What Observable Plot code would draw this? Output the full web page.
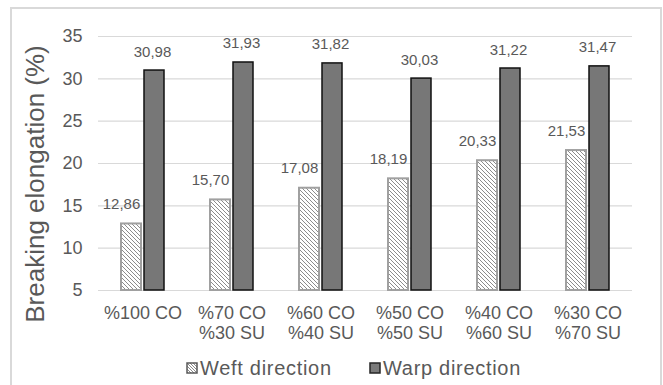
<!DOCTYPE html>
<html>
<head>
<meta charset="utf-8">
<script src="https://cdn.jsdelivr.net/npm/d3@7"></script>
<script src="https://cdn.jsdelivr.net/npm/@observablehq/plot@0.6"></script>
<style>
  body { margin: 0; background: #fff; }
  #wrap { position: relative; width: 663px; height: 385px; overflow: hidden; background: #fff;
          font-family: "Liberation Sans", Arial, sans-serif; color: #595959; }
  #frame { position: absolute; left: 10px; top: 7px; width: 652px; height: 390px;
           border: 2px solid #d9d9d9; box-sizing: border-box; }
  #chart { position: absolute; left: 0; top: 0; }
  #ytitle { position: absolute; left: 35px; top: 184px; white-space: nowrap; font-size: 26px;
            transform: translate(-50%, -50%) rotate(-90deg); }
  .item { position: absolute; top: 358px; height: 20px; line-height: 20px; font-size: 20px;
          letter-spacing: 0.7px; white-space: nowrap; }
  .item svg { position: absolute; left: 0; top: 4px; }
  .item span { position: absolute; left: 14px; top: 0; }
</style>
</head>
<body>
<div id="wrap">
  <div id="frame"></div>
  <div id="chart"></div>
  <div id="ytitle">Breaking elongation (%)</div>
  <div class="item" style="left:186px">
    <svg width="12" height="12">
      <defs>
        <pattern id="legendHatch" patternUnits="userSpaceOnUse" width="3" height="3">
          <path d="M-1,-1 L4,4 M-1,2 L1,4 M2,-1 L4,1" stroke="#7f7f7f" stroke-width="0.9"/>
        </pattern>
      </defs>
      <rect x="1" y="1" width="10" height="10" fill="url(#legendHatch)" stroke="#595959" stroke-width="1.5"/>
    </svg>
    <span>Weft direction</span>
  </div>
  <div class="item" style="left:369px">
    <svg width="12" height="12">
      <rect x="1" y="1" width="10" height="10" fill="#7a7a7a" stroke="#262626" stroke-width="1.5"/>
    </svg>
    <span>Warp direction</span>
  </div>
</div>
<script>
// Fabric blends and their breaking elongation (%) in weft and warp directions
const categories = ["%100 CO", "%70 CO\n%30 SU", "%60 CO\n%40 SU", "%50 CO\n%50 SU", "%40 CO\n%60 SU", "%30 CO\n%70 SU"];
const seriesNames = ["Weft direction", "Warp direction"];
const weftValues = [12.86, 15.70, 17.08, 18.19, 20.33, 21.53];
const warpValues = [30.98, 31.93, 31.82, 30.03, 31.22, 31.47];
const yTicks = [5, 10, 15, 20, 25, 30, 35];

const weftRows = categories.map((c, i) => ({cat: c, series: seriesNames[0], value: weftValues[i]}));
const warpRows = categories.map((c, i) => ({cat: c, series: seriesNames[1], value: warpValues[i]}));

const fmt = v => v.toFixed(2).replace(".", ",");

const chart = Plot.plot({
  width: 663,
  height: 320,
  marginTop: 36,
  marginBottom: 30,
  marginLeft: 98,
  marginRight: 31,
  style: {fontFamily: "'Liberation Sans', Arial, sans-serif", color: "#595959", background: "transparent", overflow: "visible"},
  fx: {domain: categories, padding: 0, label: null},
  x: {domain: seriesNames, paddingInner: 0.125, paddingOuter: 0.917, axis: null},
  y: {domain: [5, 35], label: null},
  marks: [
    Plot.ruleY(yTicks, {stroke: "#d9d9d9", strokeWidth: 1.2}),
    Plot.axisY(yTicks, {tickSize: 0, tickPadding: 16, fontSize: 18, label: null}),
    Plot.axisFx({anchor: "bottom", tickSize: 0, tickPadding: 14, fontSize: 18, lineHeight: 1.12, label: null}),
    Plot.barY(weftRows, {fx: "cat", x: "series", y1: 5, y2: "value", fill: "url(#weftHatch)", stroke: "#a0a0a0", strokeWidth: 2}),
    Plot.barY(warpRows, {fx: "cat", x: "series", y1: 5, y2: "value", fill: "#777777", stroke: "#111", strokeWidth: 1.5}),
    Plot.text(weftRows, {fx: "cat", x: "series", y: "value", text: d => fmt(d.value), lineAnchor: "bottom", dy: -15, dx: -10, fontSize: 15}),
    Plot.text(warpRows, {fx: "cat", x: "series", y: "value", text: d => fmt(d.value), lineAnchor: "bottom", dy: -14, dx: -2, fontSize: 15})
  ]
});

// Diagonal hatching used by the weft bars
d3.select(chart).insert("defs", ":first-child").html(
  `<pattern id="weftHatch" patternUnits="userSpaceOnUse" width="4" height="4">
     <rect width="4" height="4" fill="#fff"/>
     <path d="M-1,-1 L5,5 M-1,3 L1,5 M3,-1 L5,1" stroke="#8c8c8c" stroke-width="1"/>
   </pattern>`
);

document.getElementById("chart").appendChild(chart);
</script>
</body>
</html>
